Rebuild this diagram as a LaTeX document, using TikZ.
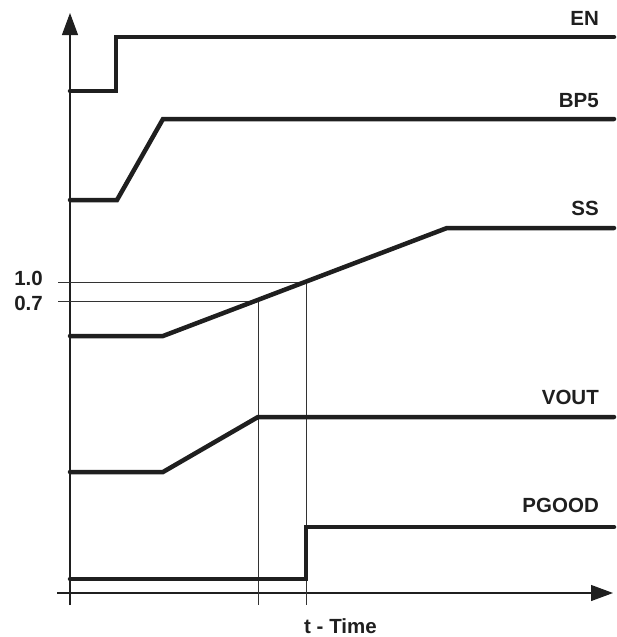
\documentclass[tikz,border=0pt]{standalone}
\usepackage{fontspec}
\setmainfont{Liberation Sans}
\usetikzlibrary{arrows.meta}
\begin{document}
\begin{tikzpicture}[x=1pt,y=-1pt,
  sig/.style={line width=4.5pt, line cap=round, line join=miter, black!88},
  guide/.style={line width=1pt, black!80},
  axisline/.style={line width=1.1pt, black!88, -{Triangle[length=22pt,width=16pt]}},
  lbl/.style={font=\bfseries\fontsize{20.5}{24}\selectfont, inner sep=0pt, text=black!88}]
\useasboundingbox (0,0) rectangle (616,637);
% axes
\coordinate (ybot) at (70,605);
\coordinate (ytop) at (70,13);
\coordinate (xl) at (57,593);
\coordinate (xr) at (613,593);
\draw[axisline] (ybot) -- (ytop);
\draw[axisline] (xl) -- (xr);
% guide lines
\coordinate (g10l) at (58,282);
\coordinate (g10r) at (306,282);
\coordinate (g10b) at (306,605);
\coordinate (g07l) at (58,301);
\coordinate (g07r) at (258,301);
\coordinate (g07b) at (258,605);
\draw[guide] (g10l) -- (g10r) -- (g10b);
\draw[guide] (g07l) -- (g07r) -- (g07b);
% signals
\draw[sig] (70,91) -- (116,91) -- (116,37) -- (614,37);
\draw[sig] (70,200) -- (117,200) -- (163,119) -- (614,119);
\draw[sig] (70,336) -- (163,336) -- (447,228) -- (614,228);
\draw[sig] (70,472) -- (163,472) -- (258,417) -- (614,417);
\draw[sig] (70,579) -- (306,579) -- (306,527) -- (614,527);
% labels
\node[lbl, anchor=east] (en) at (599,18) {EN};
\node[lbl, anchor=east] (bp5) at (599,100.5) {BP5};
\node[lbl, anchor=east] (ss) at (599,208) {SS};
\node[lbl, anchor=east] (vout) at (599,397.5) {VOUT};
\node[lbl, anchor=east] (pgood) at (599,505) {PGOOD};
\node[lbl, anchor=east] (l10) at (43,278.5) {1.0};
\node[lbl, anchor=east] (l07) at (43,303) {0.7};
\node[lbl] (time) at (340.5,626.5) {t - Time};
\end{tikzpicture}
\end{document}
